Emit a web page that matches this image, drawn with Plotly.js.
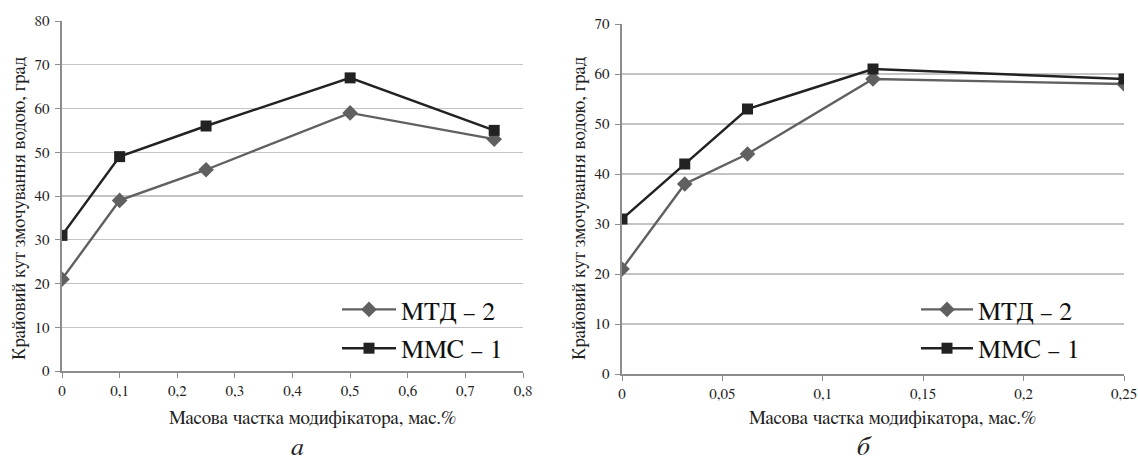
<!DOCTYPE html>
<html><head><meta charset="utf-8">
<script src="https://cdn.plot.ly/plotly-3.0.1.min.js"></script>
<style>html,body{margin:0;padding:0;background:#fff}#chart{width:1138px;height:462px}</style>
</head><body><div id="chart"></div>
<script>
// Panel a
const xA = [0, 0.1, 0.25, 0.5, 0.75];
const mtdA = [21, 39, 46, 59, 53];
const mmcA = [31, 49, 56, 67, 55];
const xTickValsA = [0, 0.1, 0.2, 0.3, 0.4, 0.5, 0.6, 0.7, 0.8];
const xTickTextA = ['0', '0,1', '0,2', '0,3', '0,4', '0,5', '0,6', '0,7', '0,8'];
const yTickValsA = [0, 10, 20, 30, 40, 50, 60, 70, 80];
// Panel б
const xB = [0, 0.03125, 0.0625, 0.125, 0.25];
const mtdB = [21, 38, 44, 59, 58];
const mmcB = [31, 42, 53, 61, 59];
const xTickValsB = [0, 0.05, 0.1, 0.15, 0.2, 0.25];
const xTickTextB = ['0', '0,05', '0,1', '0,15', '0,2', '0,25'];
const yTickValsB = [0, 10, 20, 30, 40, 50, 60, 70];

const names = ['МТД – 2', 'ММС – 1'];
const xTitle = 'Масова частка модифікатора, мас.%';
const yTitle = 'Крайовий кут змочування водою, град';
const panelLabels = ['а', 'б'];

const W = 1138, H = 462;
const FONT = "FreeSerif, 'Liberation Serif', 'Noto Serif', serif";
const cMTD = '#606060', cMMC = '#222222';

function mk(x, y, i, xa, ya, leg) {
  const isM = i === 0;
  return {
    x: x, y: y, name: names[i], type: 'scatter', mode: 'lines+markers',
    xaxis: xa, yaxis: ya, legend: leg, legendgroup: leg + i,
    line: {color: isM ? cMTD : cMMC, width: 2.4},
    marker: {symbol: isM ? 'diamond' : 'square', size: isM ? 12 : 11, color: isM ? cMTD : cMMC}
  };
}

const traces = [
  mk(xA, mtdA, 0, 'x', 'y', 'legend'),
  mk(xA, mmcA, 1, 'x', 'y', 'legend'),
  mk(xB, mtdB, 0, 'x2', 'y2', 'legend2'),
  mk(xB, mmcB, 1, 'x2', 'y2', 'legend2')
];

const axBase = {
  showline: true, linecolor: '#8c8c8c', linewidth: 1.6,
  ticks: 'outside', tickcolor: '#8c8c8c', ticklen: 5, tickwidth: 1,
  tickfont: {family: FONT, size: 15, color: '#222'},
  zeroline: false, fixedrange: true
};

const legBase = {
  bgcolor: 'rgba(0,0,0,0)', font: {family: FONT, size: 26, color: '#111'},
  traceorder: 'grouped', tracegroupgap: 2,
  xanchor: 'left', yanchor: 'top'
};

function ann(text, x, y, size, angle) {
  return {text: text, xref: 'paper', yref: 'paper', x: x / W, y: 1 - y / H, xanchor: 'center', yanchor: 'middle',
    textangle: angle || 0, showarrow: false, font: {family: FONT, size: size, color: '#222'}};
}

const layout = {
  width: W, height: H, margin: {l: 0, r: 0, t: 0, b: 0},
  paper_bgcolor: '#fff', plot_bgcolor: '#fff', showlegend: true,
  font: {family: FONT},
  xaxis: Object.assign({}, axBase, {domain: [62 / W, 523 / W], range: [0, 0.8], tickmode: 'array', tickvals: xTickValsA, ticktext: xTickTextA, showgrid: false, anchor: 'y'}),
  yaxis: Object.assign({}, axBase, {ticklabelstandoff: 3, domain: [1 - 371 / H, 1 - 21 / H], range: [0, 80], tickmode: 'array', tickvals: yTickValsA, showgrid: true, gridcolor: '#c4c4c4', gridwidth: 1.2, anchor: 'x'}),
  xaxis2: Object.assign({}, axBase, {domain: [622 / W, 1124 / W], range: [0, 0.25], tickmode: 'array', tickvals: xTickValsB, ticktext: xTickTextB, showgrid: false, anchor: 'y2'}),
  yaxis2: Object.assign({}, axBase, {ticklabelstandoff: 3, domain: [1 - 374 / H, 1 - 24 / H], range: [0, 70], tickmode: 'array', tickvals: yTickValsB, showgrid: true, gridcolor: '#c4c4c4', gridwidth: 1.2, anchor: 'x2'}),
  legend: Object.assign({}, legBase, {x: 337 / W, y: 1 - 286 / H, itemwidth: 54}),
  legend2: Object.assign({}, legBase, {x: 916 / W, y: 1 - 286 / H, itemwidth: 52}),
  annotations: [
    ann(xTitle, 312, 418, 19),
    ann(xTitle, 892, 418, 19),
    ann(yTitle, 19, 208, 19, -90),
    ann(yTitle, 579, 208, 19, -90),
    ann('<i>' + panelLabels[0] + '</i>', 297, 447, 26),
    ann('<i>' + panelLabels[1] + '</i>', 865, 447, 26)
  ]
};

Plotly.newPlot('chart', traces, layout, {staticPlot: true, displayModeBar: false});
</script>
</body></html>
